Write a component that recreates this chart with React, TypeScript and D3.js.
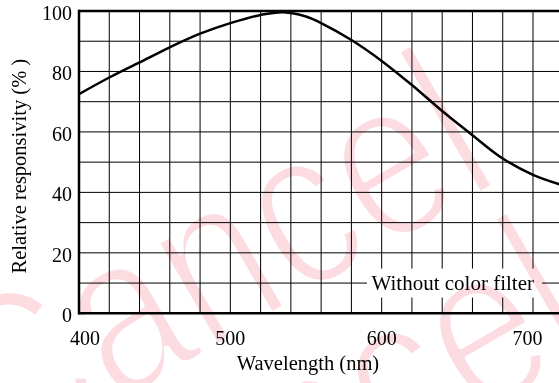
import * as d3 from "d3";

const wavelengths = [400, 420, 440, 460, 480, 500, 520, 535, 550, 560, 580, 600, 620, 640, 660, 680, 700, 720];
const responsivity = [72.5, 78, 83, 88, 92.5, 96, 98.7, 99.6, 98.2, 96, 90.4, 83.5, 75.5, 66.9, 58.9, 51.2, 45.8, 42.3];
const xTickValues = [400, 500, 600, 700];
const yTickValues = [0, 20, 40, 60, 80, 100];
const seriesLabel = "Without color filter";
const watermark = "Cancel";

export default function App() {
  const width = 559;
  const height = 383;
  const left = 79;
  const top = 11;
  const bottom = 313.3;

  const x = d3.scaleLinear().domain([400, 700]).range([left, left + 300 * 1.5133]);
  const y = d3.scaleLinear().domain([0, 100]).range([bottom, top]);

  const xGrid = d3.range(420, 720, 20);
  const yGrid = d3.range(10, 100, 10);

  const line = d3
    .line<number>()
    .x((_, i) => x(wavelengths[i]))
    .y((d) => y(d))
    .curve(d3.curveCatmullRom.alpha(0.5));

  const font = "'Liberation Serif', 'Times New Roman', serif";
  // label box sits on the 10 % gridline
  const boxY = y(10);
  const box = { x0: 367, x1: 542, y0: boxY - 14.5, y1: boxY + 14.5 };

  const nudge = (v: number) => (v === 400 ? 6 : v === 700 ? -5.5 : 0);

  return (
    <svg
      width={width}
      height={height}
      style={{ position: "absolute", left: 0, top: 0, display: "block", background: "#fff" }}
    >
      <defs>
        <clipPath id="plot">
          <rect x={left} y={0} width={width - left} height={bottom + 2} />
        </clipPath>
      </defs>

      {/* grid */}
      <g stroke="#000" strokeWidth={1}>
        {xGrid.map((v) => (
          <line key={"vx" + v} x1={x(v)} x2={x(v)} y1={top} y2={bottom} />
        ))}
        {yGrid.map((v) => (
          <line key={"hy" + v} x1={left} x2={width} y1={y(v)} y2={y(v)} />
        ))}
      </g>

      {/* series label with white background */}
      <rect x={box.x0} y={box.y0} width={box.x1 - box.x0} height={box.y1 - box.y0} fill="#fff" />
      <text x={371.5} y={boxY} dy="0.35em" fontFamily={font} fontSize={21} fill="#000">
        {seriesLabel}
      </text>

      {/* curve */}
      <path
        d={line(responsivity) || ""}
        fill="none"
        stroke="#000"
        strokeWidth={2.5}
        clipPath="url(#plot)"
      />

      {/* frame */}
      <g stroke="#000" strokeWidth={2.5} fill="none">
        <line x1={left} x2={width} y1={top} y2={top} />
        <line x1={left} x2={width} y1={bottom} y2={bottom} />
        <line x1={left} x2={left} y1={top - 1.25} y2={bottom + 1.25} />
      </g>

      {/* y ticks */}
      <g fontFamily={font} fontSize={20} fill="#000" textAnchor="end">
        {yTickValues.map((v) => (
          <text key={"yt" + v} x={72} y={y(v) + 2} dy="0.35em">
            {v}
          </text>
        ))}
      </g>

      {/* x ticks */}
      <g fontFamily={font} fontSize={20} fill="#000" textAnchor="middle">
        {xTickValues.map((v) => (
          <text key={"xt" + v} x={x(v) + nudge(v)} y={345}>
            {v}
          </text>
        ))}
      </g>

      <text x={308} y={370} textAnchor="middle" fontFamily={font} fontSize={20.5} fill="#000">
        Wavelength (nm)
      </text>
      <text
        transform={`translate(26,${(top + bottom) / 2 + 4}) rotate(-90)`}
        textAnchor="middle"
        fontFamily={font}
        fontSize={20.5}
        fill="#000"
      >
        Relative responsivity (% )
      </text>

      {/* watermark: narrowed sans, thinned with a white outline, multiplied over the chart */}
      <g
        fontFamily="'Liberation Sans', Arial, sans-serif"
        fontSize={230}
        fill="#fcdbe1"
        stroke="#fff"
        strokeWidth={7}
        strokeLinejoin="round"
        style={{ mixBlendMode: "multiply", isolation: "isolate" }}
      >
        <text transform="translate(-3,474) rotate(-30) scale(0.82,1)">{watermark}</text>
        <text transform="translate(93,641) rotate(-30) scale(0.82,1)">{watermark}</text>
      </g>
    </svg>
  );
}
